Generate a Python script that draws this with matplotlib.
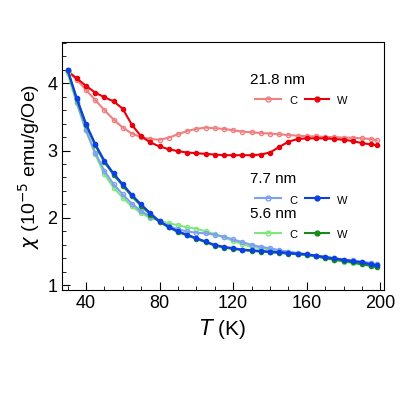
import matplotlib
matplotlib.use("Agg")
import matplotlib.pyplot as plt
from matplotlib.ticker import MultipleLocator

plt.rcParams["font.family"] = ["Liberation Sans", "DejaVu Sans"]

T = [30, 35, 40, 45, 50, 55, 60, 65, 70, 75, 80, 85, 90, 95, 100, 105, 110, 115, 120, 125,
     130, 135, 140, 145, 150, 155, 160, 165, 170, 175, 180, 185, 190, 195, 198]

r_w = [4.18, 4.07, 3.96, 3.86, 3.79, 3.73, 3.62, 3.38, 3.21, 3.12, 3.06, 3.02, 2.99, 2.97, 2.96,
       2.95, 2.94, 2.93, 2.93, 2.93, 2.93, 2.94, 2.97, 3.05, 3.13, 3.17, 3.18, 3.18, 3.18, 3.17,
       3.16, 3.14, 3.11, 3.09, 3.08]
r_c = [4.18, 4.05, 3.90, 3.75, 3.60, 3.46, 3.34, 3.25, 3.20, 3.17, 3.16, 3.19, 3.24, 3.29, 3.32,
       3.34, 3.33, 3.32, 3.30, 3.28, 3.27, 3.26, 3.25, 3.24, 3.23, 3.22, 3.21, 3.21, 3.20, 3.20,
       3.19, 3.19, 3.18, 3.17, 3.15]
b_w = [4.20, 3.78, 3.40, 3.10, 2.85, 2.66, 2.50, 2.34, 2.20, 2.07, 1.95, 1.87, 1.80, 1.75, 1.70,
       1.65, 1.60, 1.57, 1.55, 1.53, 1.52, 1.51, 1.50, 1.49, 1.48, 1.47, 1.46, 1.44, 1.42, 1.40,
       1.38, 1.36, 1.34, 1.31, 1.30]
b_c = [4.20, 3.72, 3.30, 2.97, 2.70, 2.50, 2.35, 2.21, 2.10, 2.02, 1.95, 1.88, 1.83, 1.80, 1.78,
       1.77, 1.75, 1.72, 1.68, 1.64, 1.60, 1.57, 1.55, 1.52, 1.50, 1.48, 1.46, 1.44, 1.42, 1.40,
       1.38, 1.37, 1.35, 1.33, 1.31]
g_c = [4.15, 3.70, 3.30, 2.95, 2.65, 2.45, 2.30, 2.17, 2.07, 2.00, 1.96, 1.92, 1.89, 1.86, 1.84,
       1.80, 1.76, 1.71, 1.66, 1.61, 1.57, 1.55, 1.53, 1.51, 1.49, 1.47, 1.45, 1.43, 1.41, 1.38,
       1.35, 1.33, 1.31, 1.29, 1.28]
g_w = [4.20, 3.76, 3.38, 3.08, 2.83, 2.64, 2.48, 2.32, 2.18, 2.05, 1.94, 1.86, 1.79, 1.74, 1.69,
       1.64, 1.59, 1.56, 1.54, 1.52, 1.51, 1.50, 1.49, 1.48, 1.47, 1.46, 1.45, 1.43, 1.40, 1.38,
       1.36, 1.34, 1.31, 1.29, 1.27]

fig = plt.figure(figsize=(4, 4), dpi=100)
ax = fig.add_axes([0.155, 0.275, 0.805, 0.62])

def curve(y, color, filled):
    ax.plot(T, y, "-o", color=color, lw=1.5, ms=3,
            mfc=color if filled else "none", mew=1)

curve(r_c, "#f08080", False)
curve(r_w, "#e8000b", True)
curve(g_c, "#7ee87e", False)
curve(b_c, "#7f9ff0", False)
curve(g_w, "#1a8a1a", True)
curve(b_w, "#0b3fe8", True)

ax.set_xlim(27, 202)
ax.set_ylim(0.93, 4.61)
ax.xaxis.set_major_locator(MultipleLocator(40))
ax.xaxis.set_minor_locator(MultipleLocator(10))
ax.yaxis.set_major_locator(MultipleLocator(1))
ax.yaxis.set_minor_locator(MultipleLocator(0.2))
ax.tick_params(which="both", direction="in", top=False, right=False, labelsize=13)
ax.tick_params(which="major", length=6)
ax.tick_params(which="minor", length=3)
ax.set_xlabel(r"$T$ (K)", fontsize=15)
ax.set_ylabel(r"$\chi$ (10$^{-5}$ emu/g/Oe)", fontsize=14)

def legend(y, label, cc, cw):
    ax.text(0.585, y, label, transform=ax.transAxes, fontsize=11)
    ax.plot([0.60, 0.64, 0.68], [y - 0.06] * 3, "-o", color=cc, mfc="none", ms=3.5,
            markevery=[1], transform=ax.transAxes, lw=1.5)
    ax.text(0.705, y - 0.082, "C", transform=ax.transAxes, fontsize=8)
    ax.plot([0.755, 0.793, 0.83], [y - 0.06] * 3, "-o", color=cw, ms=3.5,
            markevery=[1], transform=ax.transAxes, lw=1.5)
    ax.text(0.855, y - 0.082, "W", transform=ax.transAxes, fontsize=8)

legend(0.83, "21.8 nm", "#f08080", "#e8000b")
legend(0.43, "7.7 nm", "#7f9ff0", "#0b3fe8")
legend(0.29, "5.6 nm", "#7ee87e", "#1a8a1a")

fig.savefig("out.png")
